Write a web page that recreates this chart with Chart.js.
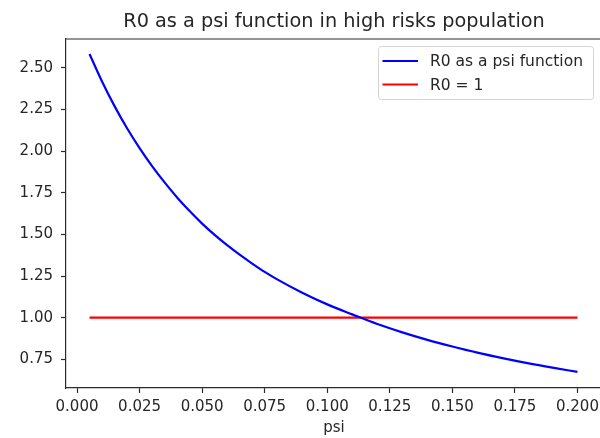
<!DOCTYPE html>
<html>
<head>
<meta charset="utf-8">
<script src="https://cdn.jsdelivr.net/npm/chart.js@4/dist/chart.umd.min.js"></script>
<style>
  html, body { margin: 0; padding: 0; background: #fff; overflow: hidden; width: 600px; height: 438px; }
  #wrap { position: relative; width: 610px; height: 438px; }
</style>
</head>
<body>
<div id="wrap"><canvas id="c" width="610" height="438"></canvas></div>
<script>
// ---- data ----
const titleText = "R0 as a psi function in high risks population";
const xLabel = "psi";
const psiValues = [0.005, 0.010, 0.015, 0.020, 0.025, 0.030, 0.035, 0.040, 0.045, 0.050,
                   0.055, 0.060, 0.065, 0.070, 0.075, 0.080, 0.090, 0.100, 0.110, 0.120,
                   0.130, 0.140, 0.150, 0.160, 0.170, 0.180, 0.190, 0.200];
const r0Values = [2.583, 2.418, 2.270, 2.137, 2.018, 1.910, 1.812, 1.722, 1.640, 1.565,
                  1.497, 1.435, 1.378, 1.325, 1.275, 1.230, 1.150, 1.080, 1.020, 0.962,
                  0.912, 0.867, 0.827, 0.790, 0.757, 0.727, 0.700, 0.675];
const thresholdX = [0.005, 0.200];
const thresholdY = [1.0, 1.0];
const seriesNames = ["R0 as a psi function", "R0 = 1"];
const seriesColors = ["#0000ff", "#ff0000"];
const xTicks = [0.000, 0.025, 0.050, 0.075, 0.100, 0.125, 0.150, 0.175, 0.200];
const yTicks = [0.75, 1.00, 1.25, 1.50, 1.75, 2.00, 2.25, 2.50];

const FONT = "'DejaVu Sans', sans-serif";
const TEXT = "#262626";
const SPINE = "#2b2b2b";

const toPts = (xs, ys) => xs.map((x, i) => ({ x: x, y: ys[i] }));

const framePlugin = {
  id: 'frame',
  afterDraw(chart) {
    const { ctx, chartArea: a } = chart;
    ctx.save();
    // title centred over the axes (matplotlib style)
    ctx.fillStyle = TEXT;
    ctx.font = "19.3px " + FONT;
    ctx.textAlign = "center";
    ctx.textBaseline = "middle";
    ctx.fillText(titleText, (a.left + a.right) / 2, 22.4);
    // top / right spines
    ctx.strokeStyle = SPINE;
    ctx.lineWidth = 1.2;
    ctx.beginPath();
    ctx.moveTo(a.left, a.top); ctx.lineTo(a.right, a.top);
    ctx.lineTo(a.right, a.bottom);
    ctx.stroke();
    // legend box (upper right inside axes)
    const ds = chart.data.datasets;
    ctx.font = "15.5px " + FONT;
    const bx = 378.5, by = 46.5, bw = 215, bh = 53;
    const r = 3;
    ctx.beginPath();
    ctx.moveTo(bx + r, by);
    ctx.lineTo(bx + bw - r, by); ctx.arcTo(bx + bw, by, bx + bw, by + r, r);
    ctx.lineTo(bx + bw, by + bh - r); ctx.arcTo(bx + bw, by + bh, bx + bw - r, by + bh, r);
    ctx.lineTo(bx + r, by + bh); ctx.arcTo(bx, by + bh, bx, by + bh - r, r);
    ctx.lineTo(bx, by + r); ctx.arcTo(bx, by, bx + r, by, r);
    ctx.closePath();
    ctx.fillStyle = "rgba(255,255,255,0.8)";
    ctx.fill();
    ctx.strokeStyle = "#d4d4d4";
    ctx.lineWidth = 1;
    ctx.stroke();
    ds.forEach((d, i) => {
      const y = 61 + i * 23.5;
      ctx.strokeStyle = d.borderColor;
      ctx.lineWidth = 2.2;
      ctx.beginPath();
      ctx.moveTo(382.5, y); ctx.lineTo(418, y);
      ctx.stroke();
      ctx.fillStyle = TEXT;
      ctx.textBaseline = "middle";
      ctx.textAlign = "left";
      ctx.fillText(d.label, 430, y + 1);
    });
    ctx.restore();
  }
};

new Chart(document.getElementById('c'), {
  type: 'line',
  data: {
    datasets: [
      { label: seriesNames[0], data: toPts(psiValues, r0Values), borderColor: seriesColors[0],
        borderWidth: 2.2, pointRadius: 0, fill: false, cubicInterpolationMode: 'monotone' },
      { label: seriesNames[1], data: toPts(thresholdX, thresholdY), borderColor: seriesColors[1],
        borderWidth: 2.2, pointRadius: 0, fill: false }
    ]
  },
  options: {
    responsive: false,
    animation: false,
    events: [],
    layout: { padding: { left: 0, right: 8, top: 39, bottom: 0 } },
    plugins: {
      legend: { display: false },
      tooltip: { enabled: false },
      title: { display: false }
    },
    scales: {
      x: {
        type: 'linear', min: -0.0044, max: 0.2098,
        afterBuildTicks: s => { s.ticks = xTicks.map(v => ({ value: v })); },
        afterFit: s => { s.height = 50; },
        grid: { drawOnChartArea: false, drawTicks: true, tickLength: 5, tickColor: SPINE, tickWidth: 1.2 },
        border: { display: true, color: SPINE, width: 1.2 },
        ticks: { color: TEXT, font: { family: FONT, size: 15 }, padding: 5, maxRotation: 0,
                 callback: v => Number(v).toFixed(3) },
        title: { display: true, text: xLabel, color: TEXT, font: { family: FONT, size: 15 },
                 padding: { top: 0, bottom: 1 } }
      },
      y: {
        type: 'linear', min: 0.578, max: 2.673,
        afterBuildTicks: s => { s.ticks = yTicks.map(v => ({ value: v })); },
        afterFit: s => { s.width = 66; },
        grid: { drawOnChartArea: false, drawTicks: true, tickLength: 5, tickColor: SPINE, tickWidth: 1.2 },
        border: { display: true, color: SPINE, width: 1.2 },
        ticks: { color: TEXT, font: { family: FONT, size: 15 }, padding: 8,
                 callback: v => Number(v).toFixed(2) }
      }
    }
  },
  plugins: [framePlugin]
});
</script>
</body>
</html>
